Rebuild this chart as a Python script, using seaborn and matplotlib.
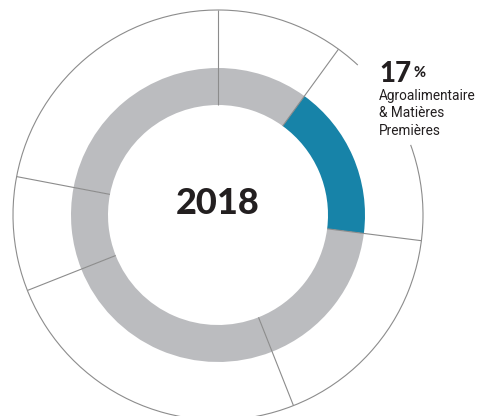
import numpy as np
import matplotlib
matplotlib.use("Agg")
import matplotlib.pyplot as plt
from matplotlib.patches import Arc
import seaborn as sns

# Sector shares (%), clockwise from 12 o'clock
sectors = ["Secteur A", "Agroalimentaire & Matières Premières", "Secteur C",
           "Secteur D", "Secteur E", "Secteur F"]
shares = [10, 17, 17, 25, 9, 22]
highlight = 1
year_label = "2018"

sns.set_theme(style="white")
plt.rcParams["font.family"] = ["Lato", "DejaVu Sans"]

W, H = 479, 416
fig = plt.figure(figsize=(W / 100, H / 100), dpi=100)
ax = fig.add_axes([0, 0, 1, 1])
ax.set_xlim(0, W)
ax.set_ylim(0, H)
ax.set_aspect("equal")
ax.axis("off")

cx, cy = 218, H - 215
r_in, r_ring, r_out = 110, 147, 205

grey = "#bbbcbf"
blue = sns.color_palette(["#1783a8"])[0]
colors = [blue if i == highlight else grey for i in range(len(shares))]

ax.pie(shares, colors=colors, startangle=90, counterclock=False,
       center=(cx, cy), radius=r_ring,
       wedgeprops=dict(width=r_ring - r_in, linewidth=0))
ax.set_xlim(0, W)
ax.set_ylim(0, H)

# Radial separators between sectors
line_col = "#8c8c8c"
bounds = np.concatenate([[0], np.cumsum(shares)[:-1]]) / 100 * 360
for b in bounds:
    a = np.deg2rad(90 - b)
    ax.plot([cx + r_in * np.cos(a), cx + r_out * np.cos(a)],
            [cy + r_in * np.sin(a), cy + r_out * np.sin(a)],
            color=line_col, lw=0.8, solid_capstyle="butt", zorder=3)

# Outer circle, opened where the label sits
ax.add_patch(Arc((cx, cy), 2 * r_out, 2 * r_out, theta1=47, theta2=380,
                 color=line_col, lw=0.8, zorder=3))

ax.text(cx, H - 204, year_label, ha="center", va="center",
        fontsize=26, fontweight="black", color="#231f20")

# Highlighted sector label
tx = 379
ax.text(tx, H - 82, f"{shares[highlight]}", ha="left", va="baseline",
        fontsize=20, fontweight="black", color="#231f20")
ax.text(tx + 35, H - 77, "%", ha="left", va="baseline",
        fontsize=10.5, fontweight="black", color="#231f20")
ax.text(tx, H - 89, "Agroalimentaire\n& Matières\nPremières", ha="left", va="top",
        fontsize=9.8, color="#231f20", linespacing=1.3,
        family=["Roboto", "DejaVu Sans"])

fig.savefig("out.png", dpi=100)
